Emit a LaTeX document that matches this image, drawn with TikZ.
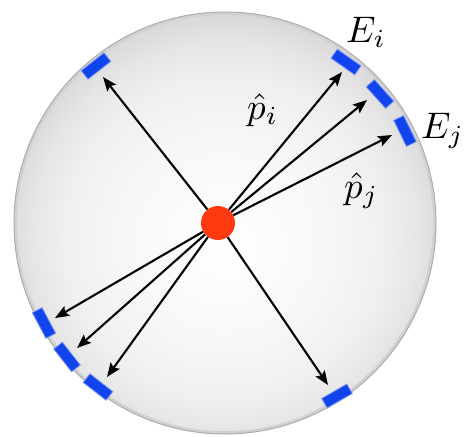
\documentclass[tikz,border=0pt]{standalone}
\usetikzlibrary{arrows.meta}
\definecolor{detblue}{RGB}{18,68,238}
\definecolor{dotred}{RGB}{255,58,16}
\pgfdeclareradialshading{sphereshade}{\pgfpoint{0bp}{-3bp}}{%
  color(0bp)=(white);
  color(12bp)=(black!3);
  color(19bp)=(black!6);
  color(23bp)=(black!10);
  color(25.5bp)=(black!14);
  color(28bp)=(black!19);
  color(50bp)=(black!19)}
\tikzset{
  blk/.style={fill=detblue, draw=detblue!55, line width=0.8pt, minimum width=29pt, minimum height=11pt, inner sep=0pt},
  ray/.style={line width=2.1pt, -{Stealth[length=14pt,width=11pt,inset=2.5pt]}},
  lbl/.style={inner sep=0pt, anchor=base west}
}
\newcommand{\biglabel}[1]{\scalebox{3.7}{$#1$}}
\begin{document}
\begin{tikzpicture}[x=1pt,y=-1pt]
\useasboundingbox (0,0) rectangle (467,437);
\fill[white] (0,0) rectangle (467,437);
% sphere
\shade[shading=sphereshade] (225,223) circle (211);
\draw[black!18, line width=3pt] (225,223) circle (209.5);
\draw[black!32, line width=1pt] (225,223) circle (211);
% detector blocks
\node[blk, rotate=38]  (bul) at (96,66) {};
\node[blk, rotate=-35] (bei) at (346,62) {};
\node[blk, rotate=-48] (bmid) at (380,94) {};
\node[blk, rotate=-64] (bej) at (405,131) {};
\node[blk, rotate=118] (bl1) at (44,323) {};
\node[blk, rotate=128] (bl2) at (67,357) {};
\node[blk, rotate=142] (bl3) at (98,387) {};
\node[blk, rotate=30]  (blr) at (337,396) {};
% arrow tips
\coordinate (tul) at (103,77);
\coordinate (tei) at (342,72);
\coordinate (tmid) at (367,100);
\coordinate (tej) at (392,135);
\coordinate (tl1) at (55,318);
\coordinate (tl2) at (77,348);
\coordinate (tl3) at (107,377);
\coordinate (tlr) at (328,385);
% interaction point
\node[circle, fill=dotred, minimum size=34pt, inner sep=0pt] (c) at (218,223) {};
\foreach \t in {tul,tei,tmid,tej,tl1,tl2,tl3,tlr}
  \draw[ray] (c) -- (\t);
% labels
\node[lbl] (ei) at (346,42) {\biglabel{E_i}};
\node[lbl] (ej) at (421,138) {\biglabel{E_j}};
\node[lbl] (pi) at (247,119) {\biglabel{\hat{p}_i}};
\node[lbl] (pj) at (344,198) {\biglabel{\hat{p}_j}};
\end{tikzpicture}
\end{document}
